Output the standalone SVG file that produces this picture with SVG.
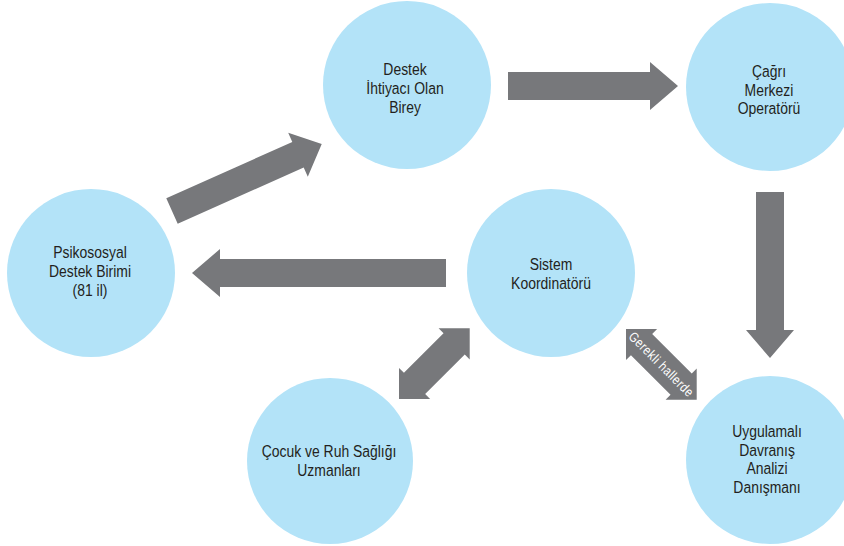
<svg xmlns="http://www.w3.org/2000/svg" width="844" height="546" viewBox="0 0 844 546">
<style>
.node{fill:#b3e3f8}
.lbl{font-family:"Liberation Sans",Arial,sans-serif;font-size:17px;fill:#231f20;text-anchor:middle}
.arr{fill:#77787b}
.note{font-family:"Liberation Sans",Arial,sans-serif;font-size:13.5px;fill:#ffffff;text-anchor:middle}
</style>
<rect width="844" height="546" fill="#ffffff"/>
<g id="connectors">
<path class="arr" d="M508,72 H650 V62 L678,86 L650,110 V100 H508 Z"/>
<path class="arr" d="M756,192 V330 H746 L770,358 L794,330 H784 V192 Z"/>
<path class="arr" d="M446,259 H220 V249 L192,273 L220,297 V287 H446 Z"/>
<path class="arr" transform="translate(172,211) rotate(-24.07)" d="M0,-14 H138 V-24 L164,0 L138,24 V14 H0 Z"/>
<path class="arr" transform="translate(399,399) rotate(-45)" d="M0,0 L22,-22 V-15 H78 V-22 L100,0 L78,22 V15 H22 V22 Z"/>
<path class="arr" transform="translate(626,329) rotate(45)" d="M0,0 L22,-22 V-15 H78 V-22 L100,0 L78,22 V15 H22 V22 Z"/>
<text class="note" transform="translate(661.5,364) rotate(45) scale(0.82,1)" x="0" y="5" textLength="104" lengthAdjust="spacing">Gerekli  hallerde</text>
</g>
<g id="node-birey">
<circle class="node" cx="407" cy="85" r="84"/>
<g transform="translate(405,0) scale(0.82,1)">
<text class="lbl" x="0" y="75">Destek</text>
<text class="lbl" x="0" y="94">İhtiyacı Olan</text>
<text class="lbl" x="0" y="113">Birey</text>
</g>
</g>
<g id="node-cagri">
<circle class="node" cx="770" cy="87" r="84"/>
<g transform="translate(769,0) scale(0.82,1)">
<text class="lbl" x="0" y="77">Çağrı</text>
<text class="lbl" x="0" y="96">Merkezi</text>
<text class="lbl" x="0" y="114">Operatörü</text>
</g>
</g>
<g id="node-psikososyal">
<circle class="node" cx="91" cy="273" r="84"/>
<g transform="translate(90,0) scale(0.82,1)">
<text class="lbl" x="0" y="258">Psikososyal</text>
<text class="lbl" x="0" y="277">Destek Birimi</text>
<text class="lbl" x="0" y="296">(81 il)</text>
</g>
</g>
<g id="node-sistem">
<circle class="node" cx="551" cy="273" r="84"/>
<g transform="translate(551,0) scale(0.82,1)">
<text class="lbl" x="0" y="270">Sistem</text>
<text class="lbl" x="0" y="289">Koordinatörü</text>
</g>
</g>
<g id="node-cocuk">
<circle class="node" cx="330" cy="461" r="83"/>
<g transform="translate(329,0) scale(0.82,1)">
<text class="lbl" x="0" y="457">Çocuk ve Ruh Sağlığı</text>
<text class="lbl" x="0" y="476">Uzmanları</text>
</g>
</g>
<g id="node-uygulamali">
<circle class="node" cx="770" cy="460" r="84"/>
<g transform="translate(767,0) scale(0.82,1)">
<text class="lbl" x="0" y="437">Uygulamalı</text>
<text class="lbl" x="0" y="456">Davranış</text>
<text class="lbl" x="0" y="474">Analizi</text>
<text class="lbl" x="0" y="493">Danışmanı</text>
</g>
</g>
</svg>
